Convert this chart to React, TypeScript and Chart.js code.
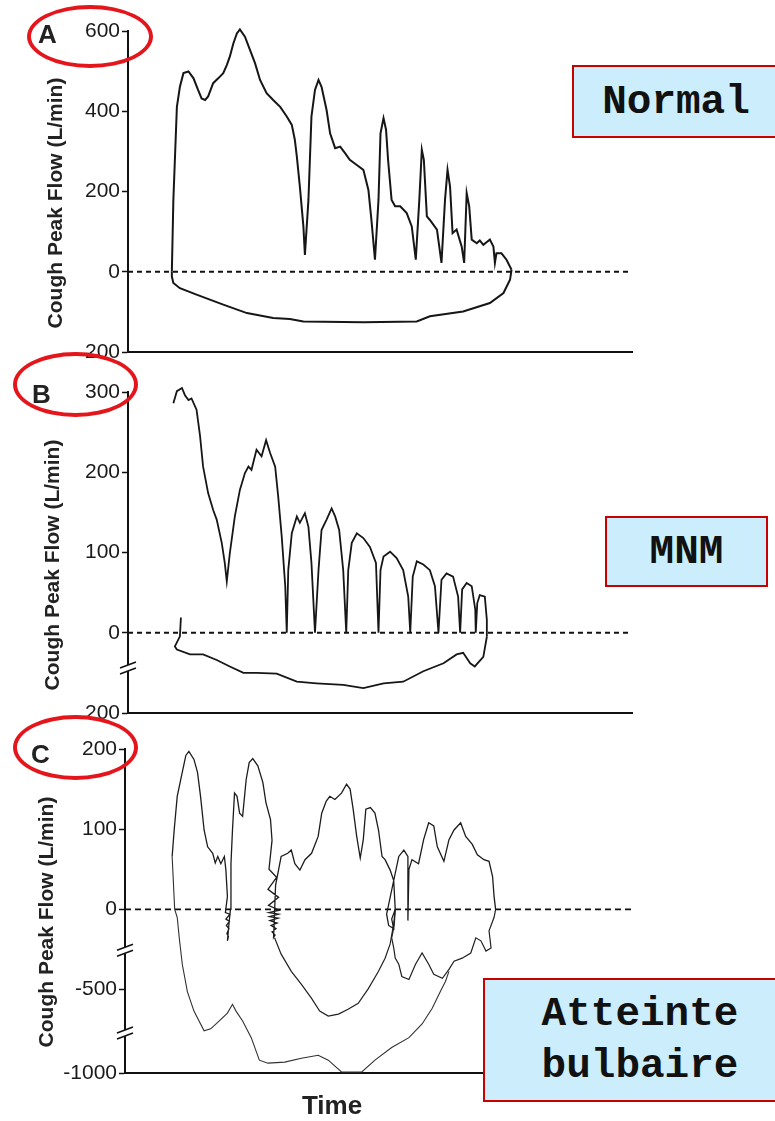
import React, { useEffect, useRef } from "react";
import { Chart, registerables } from "chart.js";

Chart.register(...registerables);

type Pt = [number, number]; // [time (a.u.), flow (L/min)]

// ---------- Panel A : Normal ----------
const normalExpiration: Pt[] = [
  [8.7, 0], [9.0, 179], [9.7, 411], [10.3, 461], [11.0, 495], [12.0, 499], [13.0, 482], [13.9, 453],
  [14.6, 432], [15.3, 428], [15.9, 437], [16.9, 470], [17.9, 482], [18.9, 495], [19.6, 515], [20.2, 536],
  [20.9, 569], [21.6, 594], [22.2, 604], [23.2, 586], [24.2, 553], [25.2, 520], [26.2, 478], [27.5, 445],
  [28.8, 428], [30.2, 411], [31.5, 387], [32.5, 366], [33.1, 329], [33.5, 287], [34.1, 212], [34.8, 113],
  [35.1, 42], [35.8, 179], [36.4, 387], [37.1, 453], [37.8, 478], [38.4, 461], [39.4, 403], [40.1, 345],
  [41.1, 308], [42.1, 312], [43.1, 295], [44.0, 279], [45.4, 266], [46.7, 254], [47.7, 204], [48.3, 129],
  [49.0, 30], [49.7, 179], [50.1, 345], [50.7, 383], [51.2, 354], [51.6, 279], [52.3, 179], [53.0, 163],
  [54.0, 163], [55.3, 146], [56.3, 113], [57.1, 30], [57.8, 179], [58.3, 304], [58.7, 279], [59.3, 138],
  [59.9, 129], [61.3, 105], [62.2, 22], [62.9, 179], [63.4, 254], [63.9, 212], [64.4, 96], [65.2, 105],
  [66.2, 63], [66.7, 22], [67.2, 196], [67.7, 163], [68.2, 80], [69.2, 71], [69.8, 78], [70.5, 67],
  [71.2, 74], [71.8, 80], [72.5, 63], [72.8, 22], [73.1, 46], [74.1, 46], [75.1, 30], [76.1, 5],
];
const normalInspiration: Pt[] = [
  [76.1, 5], [75.8, -20], [74.5, -53], [71.8, -78], [66.5, -99], [59.9, -111], [57.3, -124], [46.7, -126],
  [34.8, -124], [32.1, -118], [28.8, -115], [23.6, -103], [18.9, -82], [13.6, -57], [10.3, -41], [9.0, -28],
  [8.7, -12], [8.7, 0],
];
const normalTicks = [600, 400, 200, 0, -200];
const normalTickLabels = ["600", "400", "200", "0", "200"];

// ---------- Panel B : MNM ----------
const mnmExpiration: Pt[] = [
  [9.0, 286], [9.7, 301], [10.7, 305], [11.3, 296], [12.0, 290], [12.6, 292], [13.6, 278], [14.3, 245],
  [14.9, 207], [15.9, 174], [16.9, 153], [17.6, 141], [18.6, 112], [19.2, 87], [19.6, 64], [20.2, 99],
  [21.2, 145], [22.2, 178], [23.2, 199], [23.9, 207], [24.5, 203], [25.5, 228], [26.5, 220], [27.4, 240],
  [28.2, 224], [29.2, 207], [29.8, 170], [30.5, 120], [31.2, 58], [31.5, 0], [31.8, 78], [32.5, 124],
  [33.5, 145], [34.1, 137], [35.1, 149], [35.8, 132], [36.4, 87], [37.1, 0], [37.8, 78], [38.4, 128],
  [39.4, 141], [40.4, 155], [41.1, 145], [41.9, 128], [42.7, 78], [43.3, 0], [43.7, 78], [44.4, 112],
  [45.4, 124], [46.7, 118], [48.0, 107], [49.2, 87], [49.7, 0], [50.1, 78], [50.7, 95], [52.0, 101],
  [53.3, 93], [54.6, 78], [55.6, 45], [56.0, 0], [56.5, 70], [57.3, 89], [58.6, 85], [59.9, 78],
  [60.9, 58], [61.6, 0], [62.2, 66], [63.2, 74], [64.5, 70], [65.5, 45], [65.9, 0], [66.3, 54],
  [67.2, 62], [68.2, 58], [68.9, 29], [69.0, 0], [69.3, 37], [69.8, 47], [70.8, 45], [71.2, 16], [71.2, -10],
];
const mnmInspiration: Pt[] = [
  [71.2, -10], [70.5, -60], [68.8, -84], [67.9, -76], [66.5, -50], [65.2, -54], [62.6, -76], [58.6, -96],
  [54.6, -122], [50.7, -126], [46.7, -138], [42.7, -130], [37.4, -126], [33.5, -122], [29.5, -102],
  [25.5, -100], [22.9, -100], [20.2, -84], [17.6, -68], [14.9, -54], [12.3, -54], [9.7, -42], [9.3, -34],
  [10.3, -9], [10.5, 19],
];
const mnmTicks = [300, 200, 100, 0, -200];
const mnmTickLabels = ["300", "200", "100", "0", "200"];

// ---------- Panel C : Atteinte bulbaire ----------
const bulbarExpiration: Pt[] = [
  [9.3, 66], [9.7, 99], [10.3, 141], [11.0, 162], [12.0, 192], [12.6, 197], [13.6, 187], [14.3, 171],
  [14.9, 141], [15.6, 99], [16.3, 78], [17.3, 70], [17.8, 58], [18.3, 66], [18.9, 57], [19.6, 66],
  [19.9, 49], [20.2, 16], [19.8, -20], [20.7, -30], [19.9, -60], [20.6, -75], [20.0, -100], [20.5, -120],
  [20.1, -150], [20.4, -170], [20.2, -196], [20.6, -60], [20.8, 0], [20.9, 57], [21.2, 99], [21.6, 145],
  [22.1, 141], [22.6, 120], [23.2, 116], [23.9, 162], [24.5, 183], [25.2, 188], [26.2, 179], [27.2, 158],
  [27.8, 133], [28.7, 112], [29.0, 86], [28.4, 50], [29.9, 40], [28.2, 25], [30.3, 15], [28.3, 5],
  [30.4, -5], [28.4, -20], [30.3, -30], [28.5, -45], [30.2, -55], [28.6, -70], [30.0, -85], [28.8, -100],
  [29.8, -120], [29.0, -140], [29.6, -160], [29.3, -175], [29.4, -100], [29.7, 30], [30.8, 66], [32.1, 70],
  [32.8, 74], [33.5, 57], [34.5, 49], [35.5, 62], [36.8, 70], [38.1, 91], [38.8, 120], [39.7, 135],
  [40.4, 141], [41.4, 137], [42.7, 145], [43.7, 156], [44.4, 150], [45.0, 125], [45.7, 91], [46.4, 64],
  [47.0, 87], [47.5, 125], [48.4, 127], [49.3, 120], [50.0, 99], [50.7, 66], [51.3, 62], [52.3, 49],
  [53.0, 36], [53.3, 0], [52.6, -60], [53.0, -120], [52.0, -100], [51.6, -30], [54.0, 66], [55.0, 74],
  [55.8, 66], [55.8, -70], [56.0, 50], [56.6, 62], [57.9, 57], [58.9, 87], [59.9, 108], [60.9, 104],
  [61.6, 78], [62.9, 60], [63.9, 87], [64.9, 99], [66.2, 108], [67.2, 91], [68.5, 81], [69.5, 68],
  [70.8, 62], [71.8, 60], [72.5, 41], [72.8, 16], [73.1, 0],
];
const bulbarRightInspiration: Pt[] = [
  [73.1, 0], [72.8, -49], [71.8, -133], [72.2, -240], [71.2, -260], [70.2, -196], [69.2, -177], [68.2, -272],
  [66.5, -304], [64.9, -323], [63.9, -374], [62.6, -430], [60.9, -405], [59.9, -342], [58.6, -272],
  [57.3, -342], [56.0, -437], [54.6, -418], [54.0, -342], [53.3, -304], [53.0, -240], [52.6, -177],
  [53.1, -100], [53.3, 0],
];
const bulbarInnerInspiration: Pt[] = [
  [29.5, -177], [30.8, -279], [32.8, -386], [34.8, -468], [36.8, -553], [38.4, -629], [40.1, -659],
  [42.1, -647], [44.0, -618], [46.0, -582], [48.0, -494], [50.0, -386], [51.3, -304], [52.3, -215],
  [53.0, -89], [53.3, 0],
];
const bulbarOuterInspiration: Pt[] = [
  [9.3, 66], [9.8, 0], [10.3, -49], [10.7, -177], [11.3, -342], [12.3, -512], [13.6, -629], [15.6, -747],
  [16.9, -735], [18.6, -688], [20.2, -641], [21.2, -588], [21.9, -629], [23.2, -688], [24.9, -788],
  [26.5, -923], [28.2, -941], [31.5, -935], [34.8, -912], [38.1, -894], [40.1, -923], [42.7, -994],
  [46.7, -994], [49.3, -923], [52.6, -847], [56.0, -788], [58.6, -706], [60.6, -612], [62.2, -512],
  [63.2, -449], [63.9, -386],
];
const bulbarTicks = [200, 100, 0, -500, -1000];
const bulbarTickLabels = ["200", "100", "0", "-500", "-1000"];

const timeRange = [0, 100];
const yTitle = "Cough Peak Flow (L/min)";
const xTitle = "Time";
const panelLetters = ["A", "B", "C"];
const groupLabels = ["Normal", "MNM", "Atteinte\nbulbaire"];

interface Trace { data: Pt[]; width: number; color: string; }
interface PanelSpec {
  top: number; height: number; axisX: number; padTop: number; padBottom: number;
  transform: (v: number) => number;
  ticks: number[]; labels: string[]; traces: Trace[]; breaks: number[];
  titleX: number; titleY: number; zeroWidth: number; zeroDash: number[];
}

const panels: PanelSpec[] = [
  {
    top: 0, height: 370, axisX: 128, padTop: 31, padBottom: 18,
    transform: (v) => v,
    ticks: normalTicks, labels: normalTickLabels, breaks: [],
    traces: [
      { data: normalExpiration, width: 2, color: "#161616" },
      { data: normalInspiration, width: 2, color: "#161616" },
    ],
    titleX: 56, titleY: 203, zeroWidth: 1.8, zeroDash: [5, 4],
  },
  {
    top: 370, height: 360, axisX: 128, padTop: 22, padBottom: 17,
    transform: (v) => (v >= 0 ? v : v * 0.5),
    ticks: mnmTicks, labels: mnmTickLabels, breaks: [-88],
    traces: [
      { data: mnmExpiration, width: 1.8, color: "#161616" },
      { data: mnmInspiration, width: 1.8, color: "#161616" },
    ],
    titleX: 53, titleY: 565, zeroWidth: 1.8, zeroDash: [5, 4],
  },
  {
    top: 730, height: 391, axisX: 125, padTop: 19, padBottom: 48,
    transform: (v) => (v >= 0 ? v : v >= -500 ? v * 0.2 : -100 + (v + 500) * 0.208),
    ticks: bulbarTicks, labels: bulbarTickLabels, breaks: [-255, -760],
    traces: [
      { data: bulbarExpiration, width: 1.3, color: "#1c1c1c" },
      { data: bulbarRightInspiration, width: 1.2, color: "#202020" },
      { data: bulbarInnerInspiration, width: 1.2, color: "#202020" },
      { data: bulbarOuterInspiration, width: 1.1, color: "#303030" },
    ],
    titleX: 47, titleY: 922, zeroWidth: 1.6, zeroDash: [6, 4],
  },
];

const CANVAS_W = 640;

function Panel({ spec }: { spec: PanelSpec }) {
  const ref = useRef<HTMLCanvasElement>(null);
  useEffect(() => {
    const s = spec;
    const toPts = (arr: Pt[]) => arr.map(([t, v]) => ({ x: t, y: s.transform(v) }));
    const datasets: any[] = s.traces.map((tr) => ({
      data: toPts(tr.data),
      borderColor: tr.color,
      borderWidth: tr.width,
      pointRadius: 0,
      showLine: true,
      fill: false,
      tension: 0,
      clip: false,
    }));
    datasets.push({
      data: timeRange.map((t) => ({ x: t, y: 0 })),
      borderColor: "#111",
      borderWidth: s.zeroWidth,
      borderDash: s.zeroDash,
      pointRadius: 0,
      showLine: true,
      fill: false,
      clip: false,
    });
    const decor = {
      id: "decor",
      afterDraw(chart: any) {
        const { ctx, chartArea } = chart;
        const y = chart.scales.y;
        ctx.save();
        for (const b of s.breaks) {
          const py = y.getPixelForValue(s.transform(b));
          const px = chartArea.left;
          ctx.fillStyle = "#fff";
          ctx.fillRect(px - 3, py - 3, 6, 6);
          ctx.strokeStyle = "#111";
          ctx.lineWidth = 1.5;
          ctx.beginPath();
          ctx.moveTo(px - 8, py);
          ctx.lineTo(px + 8, py - 6);
          ctx.moveTo(px - 8, py + 6);
          ctx.lineTo(px + 8, py);
          ctx.stroke();
        }
        ctx.translate(s.titleX, s.titleY - s.top);
        ctx.rotate(-Math.PI / 2);
        ctx.fillStyle = "#222";
        ctx.font = 'bold 21px "Liberation Sans", Arial, sans-serif';
        ctx.textAlign = "center";
        ctx.textBaseline = "middle";
        ctx.fillText(yTitle, 0, 0);
        ctx.restore();
      },
    };
    const tickDisplay = s.ticks.map((v) => s.transform(v));
    const chart = new Chart(ref.current as HTMLCanvasElement, {
      type: "scatter",
      data: { datasets },
      options: {
        responsive: false,
        animation: false,
        devicePixelRatio: 1,
        layout: { padding: { top: s.padTop, bottom: s.padBottom, left: 0, right: 8 } },
        plugins: { legend: { display: false }, tooltip: { enabled: false }, title: { display: false } },
        events: [],
        scales: {
          x: {
            type: "linear",
            min: timeRange[0],
            max: timeRange[1],
            ticks: { display: false },
            grid: { display: false, drawTicks: false },
            border: { display: true, color: "#111", width: 2 },
            afterFit: (sc: any) => { sc.height = 0; },
          },
          y: {
            type: "linear",
            min: tickDisplay[tickDisplay.length - 1],
            max: tickDisplay[0],
            afterBuildTicks: (sc: any) => { sc.ticks = tickDisplay.map((v) => ({ value: v })); },
            ticks: {
              autoSkip: false,
              padding: 2,
              color: "#1a1a1a",
              font: { family: '"Liberation Sans", Arial, sans-serif', size: 21 },
              callback: (val: any) => {
                const i = tickDisplay.findIndex((d) => Math.abs(d - Number(val)) < 1e-6);
                return i >= 0 ? s.labels[i] : "";
              },
            },
            grid: { display: true, drawOnChartArea: false, drawTicks: true, tickLength: 6, tickWidth: 1.5, tickColor: "#111" },
            border: { display: true, color: "#111", width: 2 },
            afterFit: (sc: any) => { sc.width = s.axisX; },
          },
        },
      } as any,
      plugins: [decor],
    });
    return () => chart.destroy();
  }, [spec]);
  return (
    <canvas
      ref={ref}
      width={CANVAS_W}
      height={spec.height}
      style={{ position: "absolute", left: 0, top: spec.top, width: CANVAS_W, height: spec.height }}
    />
  );
}

const letterPos = [
  { left: 38, top: 21 },
  { left: 32, top: 381 },
  { left: 31, top: 741 },
];
const ellipsePos = [
  { left: 27, top: 5, width: 126, height: 63 },
  { left: 13, top: 352, width: 125, height: 65 },
  { left: 13, top: 715, width: 125, height: 65 },
];
const boxPos = [
  { left: 572, top: 65, width: 208, height: 73 },
  { left: 605, top: 516, width: 163, height: 71 },
  { left: 483, top: 978, width: 314, height: 124 },
];

export default function App() {
  return (
    <div
      style={{
        position: "absolute", left: 0, top: 0, width: 775, height: 1121, overflow: "hidden",
        background: "#fff", fontFamily: '"Liberation Sans", Arial, sans-serif',
      }}
    >
      {panels.map((p, i) => <Panel key={i} spec={p} />)}
      {panelLetters.map((l, i) => (
        <span
          key={l}
          style={{
            position: "absolute", left: letterPos[i].left, top: letterPos[i].top,
            fontSize: 26, lineHeight: "26px", fontWeight: "bold", color: "#222",
          }}
        >{l}</span>
      ))}
      {ellipsePos.map((e, i) => (
        <div
          key={i}
          style={{
            position: "absolute", left: e.left, top: e.top, width: e.width, height: e.height,
            border: "4px solid rgb(228,22,28)", borderRadius: "50%", boxSizing: "border-box",
          }}
        />
      ))}
      {groupLabels.map((g, i) => (
        <div
          key={i}
          style={{
            position: "absolute", left: boxPos[i].left, top: boxPos[i].top,
            width: boxPos[i].width, height: boxPos[i].height, boxSizing: "border-box",
            border: "2px solid #c80000", background: "rgb(204,238,252)",
            display: "flex", alignItems: "center", justifyContent: "center", textAlign: "center",
            fontFamily: '"Liberation Mono", "Courier New", monospace', fontWeight: "bold",
            fontSize: 41, lineHeight: "52px", whiteSpace: "pre-line", color: "#111",
          }}
        >{g}</div>
      ))}
      <span
        style={{
          position: "absolute", left: 232, width: 200, top: 1092, textAlign: "center",
          fontSize: 26, lineHeight: "26px", fontWeight: "bold", color: "#222",
        }}
      >{xTitle}</span>
    </div>
  );
}
